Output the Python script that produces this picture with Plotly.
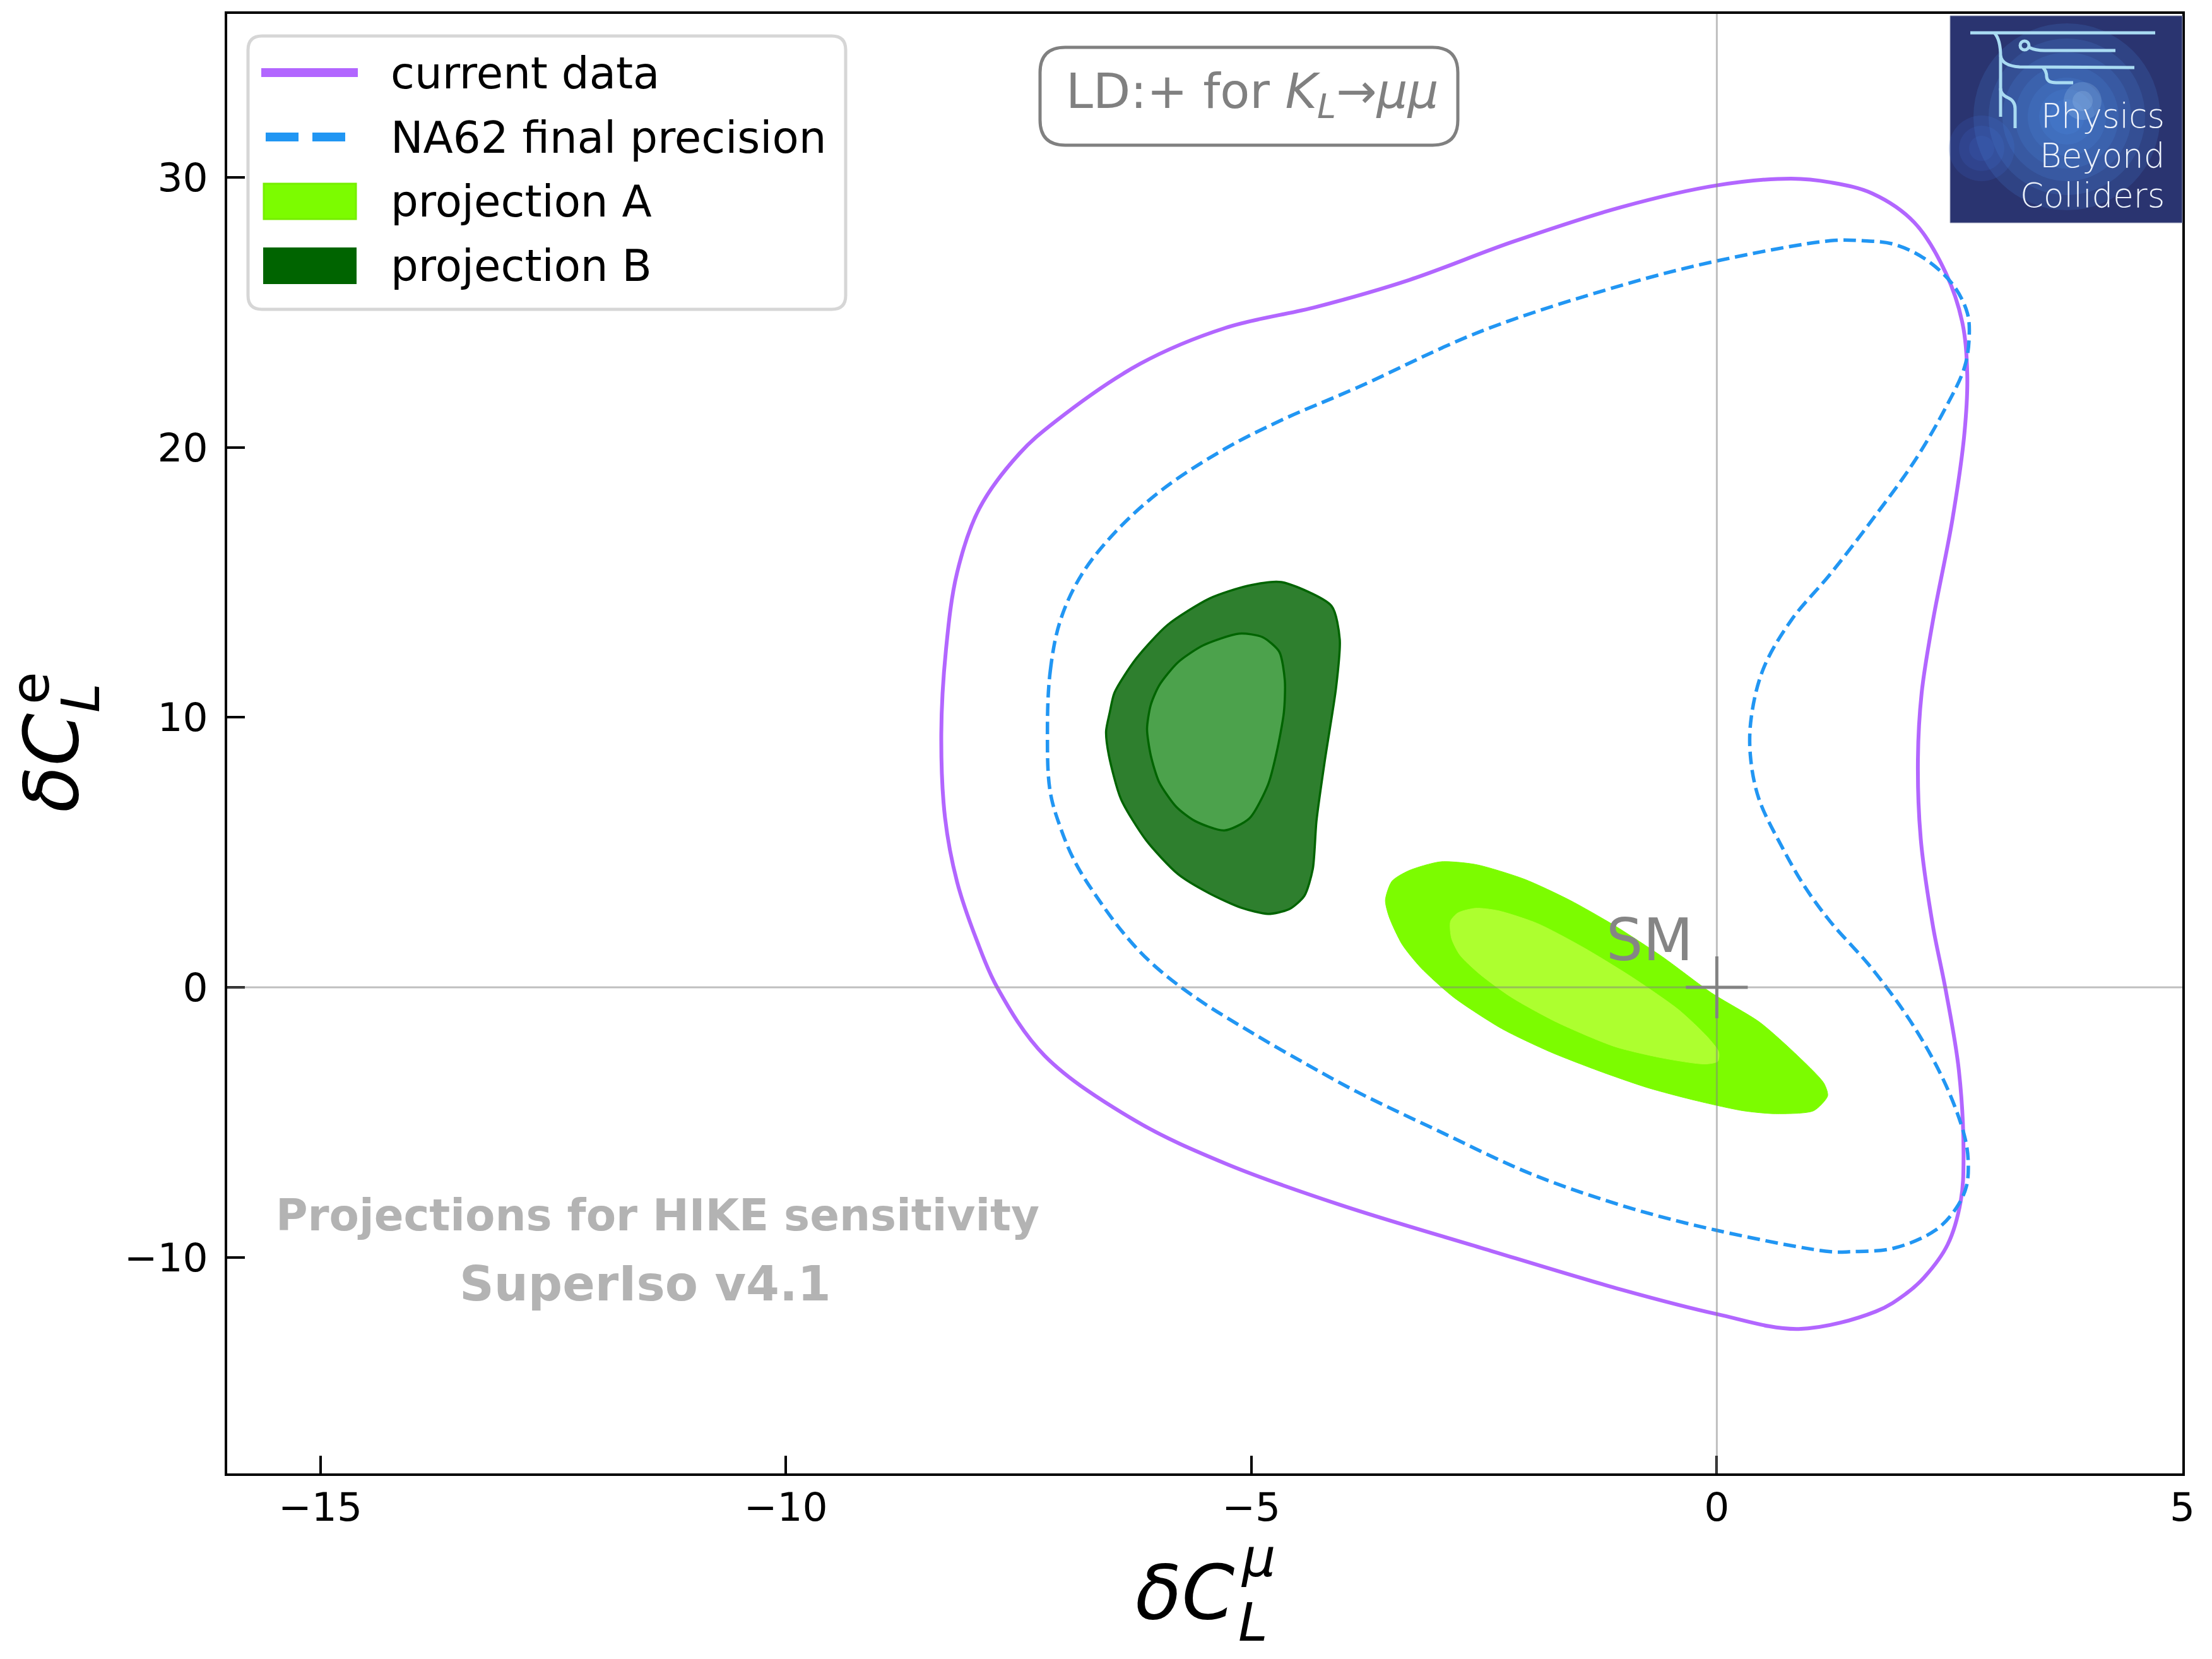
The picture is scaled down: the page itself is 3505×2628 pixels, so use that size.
import plotly.graph_objects as go

# ---------------- data ----------------
current_x = [-8.33, -8.28, -8.16, -7.92, -7.49, -7.10, -6.19, -5.28, -4.30, -3.30, -2.20, -1.02, 0.0, 0.80,
             1.22, 1.67, 2.12, 2.46, 2.64, 2.69, 2.66, 2.53, 2.32, 2.20, 2.16, 2.19, 2.32, 2.46, 2.60, 2.65,
             2.62, 2.48, 2.23, 2.03, 1.71, 0.88, 0.0, -1.02, -2.53, -4.05, -5.26, -6.25, -7.22, -7.73, -7.95,
             -8.16, -8.29, -8.33]
current_y = [9.39, 12.49, 15.36, 17.74, 19.77, 20.97, 23.1, 24.42, 25.2, 26.2, 27.6, 28.9, 29.7, 29.95,
             29.81, 29.40, 28.33, 26.45, 24.57, 22.69, 20.54, 17.32, 13.56, 10.9, 8.46, 5.51, 2.29, -0.13,
             -3.08, -6.30, -7.91, -9.52, -10.73, -11.35, -12.0, -12.65, -12.1, -11.2, -9.65, -8.05, -6.55,
             -4.93, -2.53, 0.0, 1.75, 3.90, 6.29, 9.39]

na62_x = [-7.19, -7.16, -7.05, -6.82, -6.45, -5.95, -5.28, -4.68, -3.87, -2.53, -1.02, 0.0, 1.22, 1.56,
          1.90, 2.23, 2.53, 2.69, 2.71, 2.66, 2.46, 2.12, 1.67, 1.22, 0.80, 0.50, 0.37, 0.36, 0.45, 0.70,
          0.95, 1.22, 1.67, 2.12, 2.46, 2.66, 2.70, 2.68, 2.57, 2.35, 1.90, 1.44, 1.22, 0.0, -1.0, -2.0,
          -3.0, -3.87, -4.38, -4.98, -5.59, -6.04, -6.34, -6.65, -6.89, -7.04, -7.16, -7.19]
na62_y = [9.39, 11.7, 13.6, 15.3, 16.9, 18.45, 19.95, 21.0, 22.2, 24.3, 26.0, 26.9, 27.65, 27.65,
          27.52, 26.99, 26.05, 24.98, 24.04, 22.96, 21.48, 19.47, 17.32, 15.31, 13.6, 11.8, 10.0, 8.6,
          7.0, 5.2, 3.7, 2.43, 0.68, -1.47, -3.62, -5.50, -6.44, -7.38, -8.18, -8.99, -9.66, -9.79,
          -9.79, -9.0, -8.1, -6.9, -5.3, -3.86, -2.90, -1.71, -0.40, 0.80, 1.87, 3.30, 4.62, 5.82, 7.24,
          9.39]

projB_outer_x = [-4.68, -4.14, -4.05, -4.09, -4.21, -4.30, -4.34, -4.43, -4.59, -4.82, -5.11, -5.45, -5.79,
                 -6.13, -6.40, -6.53, -6.56, -6.52, -6.47, -6.24, -5.90, -5.45, -5.04, -4.68]
projB_outer_y = [15.01, 14.13, 12.88, 11.09, 8.41, 6.17, 4.38, 3.39, 2.90, 2.72, 2.95, 3.48, 4.20, 5.45,
                 6.97, 8.59, 9.48, 10.19, 10.91, 12.16, 13.42, 14.40, 14.87, 15.01]
projB_inner_x = [-5.13, -4.88, -4.70, -4.64, -4.65, -4.73, -4.82, -5.02, -5.29, -5.61, -5.81, -5.99, -6.08,
                 -6.12, -6.08, -5.99, -5.79, -5.52, -5.13]
projB_inner_y = [13.10, 12.97, 12.43, 11.36, 10.19, 8.67, 7.51, 6.26, 5.81, 6.17, 6.70, 7.60, 8.59, 9.57,
                 10.46, 11.18, 12.03, 12.66, 13.10]

projA_outer_x = [-2.97, -2.59, -2.07, -1.58, -1.10, -0.58, -0.06, 0.46, 0.87, 1.15, 1.19, 1.04, 0.63, 0.28,
                 -0.24, -0.75, -1.27, -1.79, -2.31, -2.83, -3.18, -3.38, -3.52, -3.56, -3.49, -3.31, -2.97]
projA_outer_y = [4.65, 4.55, 4.01, 3.23, 2.29, 1.12, -0.20, -1.29, -2.54, -3.55, -4.02, -4.57, -4.68, -4.57,
                 -4.18, -3.71, -3.09, -2.39, -1.53, -0.36, 0.73, 1.59, 2.61, 3.23, 3.93, 4.32, 4.65]
projA_inner_x = [-2.59, -2.35, -1.93, -1.45, -0.93, -0.41, -0.10, 0.02, 0.01, -0.13, -0.58, -1.10, -1.72,
                 -2.21, -2.55, -2.76, -2.85, -2.86, -2.78, -2.59]
projA_inner_y = [2.93, 2.84, 2.37, 1.51, 0.42, -0.83, -1.84, -2.39, -2.74, -2.84, -2.62, -2.19, -1.29,
                 -0.36, 0.50, 1.20, 1.82, 2.45, 2.76, 2.93]

sm_x = [0.0]
sm_y = [0.0]

x_tickvals = [-15, -10, -5, 0, 5]
x_ticktext = ["\u221215", "\u221210", "\u22125", "0", "5"]
y_tickvals = [-10, 0, 10, 20, 30]
y_ticktext = ["\u221210", "0", "10", "20", "30"]

legend_labels = ["current data", "NA62 final precision", "projection A", "projection B"]
logo_lines = ["Physics", "Beyond", "Colliders"]

# ---------------- styling / layout helpers ----------------
W, H = 3505, 2628
PL, PR, PT, PB = 360, 3458, 22, 2334
FONT = "DejaVu Sans"

PURPLE = "#b266ff"
BLUE = "#2196f3"


def pp(x, y):
    return (x - PL) / (PR - PL), (PB - y) / (PB - PT)


def path_from(cmds):
    out = []
    for c in cmds:
        if c[0] == "Z":
            out.append("Z")
        else:
            pts = []
            for i in range(1, len(c), 2):
                a, b = pp(c[i], c[i + 1])
                pts.append(f"{a:.6f},{b:.6f}")
            out.append(c[0] + " " + " ".join(pts))
    return " ".join(out)


def rrect(x0, y0, x1, y1, r):
    return path_from([
        ("M", x0 + r, y0), ("L", x1 - r, y0), ("Q", x1, y0, x1, y0 + r),
        ("L", x1, y1 - r), ("Q", x1, y1, x1 - r, y1), ("L", x0 + r, y1),
        ("Q", x0, y1, x0, y1 - r), ("L", x0, y0 + r), ("Q", x0, y0, x0 + r, y0), ("Z",)])


fig = go.Figure()

fig.add_trace(go.Scatter(x=current_x, y=current_y, mode="lines", name=legend_labels[0],
                         line=dict(color=PURPLE, width=6, shape="spline", smoothing=1.0),
                         showlegend=False, hoverinfo="skip"))
fig.add_trace(go.Scatter(x=na62_x, y=na62_y, mode="lines", name=legend_labels[1],
                         line=dict(color=BLUE, width=5.5, dash="20px,9px", shape="spline", smoothing=1.0),
                         showlegend=False, hoverinfo="skip"))
fig.add_trace(go.Scatter(x=projB_outer_x, y=projB_outer_y, mode="lines", fill="toself", name=legend_labels[3],
                         fillcolor="#2e7f2e", line=dict(color="#006400", width=3.5, shape="spline", smoothing=0.7),
                         showlegend=False, hoverinfo="skip"))
fig.add_trace(go.Scatter(x=projB_inner_x, y=projB_inner_y, mode="lines", fill="toself", name=legend_labels[3],
                         fillcolor="#4ca24c", line=dict(color="#006400", width=3.5, shape="spline", smoothing=0.7),
                         showlegend=False, hoverinfo="skip"))
fig.add_trace(go.Scatter(x=projA_outer_x, y=projA_outer_y, mode="lines", fill="toself", name=legend_labels[2],
                         fillcolor="#7cfc00", line=dict(color="#7cfc00", width=1, shape="spline", smoothing=0.7),
                         showlegend=False, hoverinfo="skip"))
fig.add_trace(go.Scatter(x=projA_inner_x, y=projA_inner_y, mode="lines", fill="toself", name=legend_labels[2],
                         fillcolor="#adff2f", line=dict(color="#adff2f", width=1, shape="spline", smoothing=0.7),
                         showlegend=False, hoverinfo="skip"))
fig.add_trace(go.Scatter(x=sm_x, y=sm_y, mode="markers", name="SM",
                         marker=dict(symbol="cross-thin", size=70, line=dict(color="#858585", width=5)),
                         showlegend=False, hoverinfo="skip"))

shapes = []
# reference lines at zero
shapes.append(dict(type="line", xref="x", yref="paper", x0=0, x1=0, y0=0, y1=1,
                   line=dict(color="rgba(128,128,128,0.5)", width=3), layer="above"))
shapes.append(dict(type="line", xref="paper", yref="y", x0=0, x1=1, y0=0, y1=0,
                   line=dict(color="rgba(128,128,128,0.5)", width=3), layer="above"))

# legend box
shapes.append(dict(type="path", xref="paper", yref="paper", path=rrect(393, 57, 1340, 490, 22),
                   line=dict(color="#d6d6d6", width=5), fillcolor="rgba(255,255,255,0.85)", layer="above"))
a0, b0 = pp(414, 115); a1, b1 = pp(567, 115)
shapes.append(dict(type="line", xref="paper", yref="paper", x0=a0, y0=b0, x1=a1, y1=b1,
                   line=dict(color=PURPLE, width=14), layer="above"))
a0, b0 = pp(421, 217); a1, b1 = pp(547, 217)
shapes.append(dict(type="line", xref="paper", yref="paper", x0=a0, y0=b0, x1=a1, y1=b1,
                   line=dict(color=BLUE, width=14, dash="52px,22px"), layer="above"))
a0, b0 = pp(418, 291); a1, b1 = pp(564, 347)
shapes.append(dict(type="rect", xref="paper", yref="paper", x0=a0, y0=b0, x1=a1, y1=b1,
                   line=dict(color="#76ee00", width=3), fillcolor="#7cfc00", layer="above"))
a0, b0 = pp(418, 393); a1, b1 = pp(564, 449)
shapes.append(dict(type="rect", xref="paper", yref="paper", x0=a0, y0=b0, x1=a1, y1=b1,
                   line=dict(color="#006400", width=2), fillcolor="#006400", layer="above"))

# LD box
shapes.append(dict(type="path", xref="paper", yref="paper", path=rrect(1648, 75, 2310, 230, 40),
                   line=dict(color="#808080", width=5), fillcolor="white", layer="above"))

# logo (Physics Beyond Colliders)
a0, b0 = pp(3090, 25); a1, b1 = pp(3458, 353)
shapes.append(dict(type="rect", xref="paper", yref="paper", x0=a0, y0=b0, x1=a1, y1=b1,
                   line=dict(color="#9aa0b8", width=1), fillcolor="#2a3470", layer="above"))
glows = [(3140, 235, r, "#3a5fc0", 0.22) for r in (52, 36, 20)]
glows += [(3275, 185, r, "#4d8fe6", 0.17) for r in (148, 124, 102, 82, 62, 44, 28)]
glows += [(3300, 160, r, "#bfe0fa", 0.18) for r in (30, 16)]
for (cx, cy, r, col, op) in glows:
    a0, b0 = pp(cx - r, cy - r); a1, b1 = pp(cx + r, cy + r)
    shapes.append(dict(type="circle", xref="paper", yref="paper", x0=a0, y0=b0, x1=a1, y1=b1,
                       line=dict(width=0), fillcolor=col, opacity=op, layer="above"))
LOGO_LINE = dict(color="#a9dbf2", width=5)
for cmds in [
    [("M", 3122, 52), ("L", 3415, 52)],
    [("M", 3160, 52), ("Q", 3170, 62, 3170, 90), ("L", 3170, 185)],
    [("M", 3170, 140), ("Q", 3170, 150, 3182, 155), ("Q", 3193, 160, 3193, 172), ("L", 3193, 203)],
    [("M", 3170, 88), ("Q", 3172, 104, 3200, 106), ("L", 3382, 107)],
    [("M", 3215, 75), ("Q", 3225, 80, 3240, 80), ("L", 3352, 80)],
    [("M", 3237, 107), ("Q", 3243, 112, 3243, 122), ("Q", 3244, 131, 3258, 131), ("L", 3285, 131)],
]:
    shapes.append(dict(type="path", xref="paper", yref="paper", path=path_from(cmds),
                       line=LOGO_LINE, layer="above"))
a0, b0 = pp(3201, 65); a1, b1 = pp(3215, 79)
shapes.append(dict(type="circle", xref="paper", yref="paper", x0=a0, y0=b0, x1=a1, y1=b1,
                   line=LOGO_LINE, layer="above"))

annotations = []


def ann(text, x, y, size, color="black", xanchor="center", yanchor="middle", angle=0, family=FONT,
        weight=None):
    a, b = pp(x, y)
    font = dict(family=family, size=size, color=color)
    if weight is not None:
        font["weight"] = weight
    annotations.append(dict(text=text, x=a, y=b, xref="paper", yref="paper", showarrow=False,
                            xanchor=xanchor, yanchor=yanchor, textangle=angle, font=font))


# legend texts
for lab, yc in zip(legend_labels, [116, 218, 319, 421]):
    ann(lab, 617, yc, 69, xanchor="left")

# LD label
ann("LD:+ for <i>K</i><sub><i>L</i></sub>\u2192<i>\u03bc\u03bc</i>", 1984, 150, 77, color="#808080")

# HIKE text
ann("<b>Projections for HIKE sensitivity</b>", 1042, 1925, 69, color="#b3b3b3")
ann("<b>SuperIso v4.1</b>", 1022, 2033, 76, color="#b3b3b3")

# logo text
for t, yc in zip(logo_lines, [183, 246, 309]):
    ann(t, 3432, yc, 53, color="#eef3fb", xanchor="right", weight=200)

# axis labels
ann("<i>\u03b4C</i>", 1958, 2522, 120, xanchor="right")
ann("<i>\u03bc</i>", 1964, 2468, 84, xanchor="left")
ann("<i>L</i>", 1960, 2570, 84, xanchor="left")
ann("<i>\u03b4C</i>", 81, 1209, 120, angle=-90)
ann("e", 48, 1090, 84, angle=-90)
ann("<i>L</i>", 128, 1105, 84, angle=-90)

# SM label
annotations.append(dict(text="SM", x=-0.72, y=1.75, xref="x", yref="y", showarrow=False,
                        xanchor="center", yanchor="middle",
                        font=dict(family=FONT, size=92, color="#858585")))

axis_common = dict(showline=True, linecolor="black", linewidth=3.5, mirror=True,
                   ticks="inside", ticklen=28, tickwidth=3.5, tickcolor="black",
                   showgrid=False, zeroline=False,
                   tickfont=dict(family=FONT, size=63, color="black"))

fig.update_layout(
    width=W, height=H, autosize=False,
    margin=dict(l=PL, r=W - PR, t=PT, b=H - PB, pad=0),
    paper_bgcolor="white", plot_bgcolor="white",
    showlegend=False,
    xaxis=dict(range=[-16, 5], tickvals=x_tickvals, ticktext=x_ticktext, ticklabelstandoff=-4, **axis_common),
    yaxis=dict(range=[-18, 36.05], tickvals=y_tickvals, ticktext=y_ticktext, ticklabelstandoff=14, **axis_common),
    shapes=shapes,
    annotations=annotations,
)

fig.write_html("out.html", config={"displayModeBar": False},
               post_script="document.body.style.margin='0';document.body.style.overflow='hidden';")
